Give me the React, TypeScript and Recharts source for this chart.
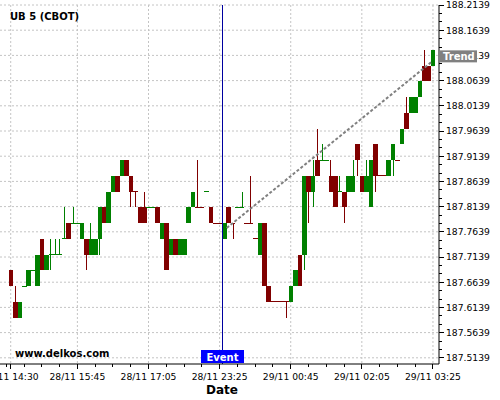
import React from 'react';
import { ComposedChart, Bar, XAxis, YAxis, CartesianGrid, ReferenceLine } from 'recharts';

// UB is quoted in points and 32nds: values below are 32nds above 187
const BASE = 187;
const opens = [
  22, 20, 19, 21, 21, 22, 21, 24, 22, 23, 23, 23, 24, 25, 25, 25, 24, 24, 23, 23,
  24, 26, 25, 27, 28, 28, 29, 28, 27, 26, 26, 26, 26, 26, 24, 25, 23, 24, 23, 23,
  25, 26, 26, 26, 27, 26, 25, 25, 24, 26, 25, 26, 26, 25, 25, 24, 23, 25, 21, 20,
  20, 20, 20, 20, 21, 23, 23, 28, 27, 29, 29, 29, 28, 28, 27, 27, 27, 27, 30, 28,
  27, 26, 30, 28, 28, 28, 29, 29, 30, 32, 32, 32, 33, 35, 35, 35,
];
const highs = [
  22, 21, 20, 21, 22, 22, 23, 24, 23, 24, 24, 24, 26, 25, 26, 25, 25, 24, 25, 24,
  26, 26, 27, 28, 28, 29, 29, 28, 27, 26, 27, 26, 26, 26, 25, 25, 24, 24, 24, 24,
  26, 27, 29, 26, 27, 26, 25, 25, 25, 26, 25, 26, 27, 25, 28, 24, 25, 25, 21, 20,
  20, 20, 20, 21, 22, 23, 28, 28, 29, 31, 30, 29, 29, 28, 28, 27, 28, 29, 30, 28,
  29, 29, 30, 28, 28, 29, 30, 29, 31, 33, 33, 33, 34, 36, 35, 36,
];
const lows = [
  21, 19, 19, 21, 21, 22, 21, 22, 22, 22, 23, 23, 24, 24, 25, 25, 24, 22, 23, 23,
  23, 25, 25, 27, 27, 28, 28, 26, 26, 25, 25, 26, 26, 25, 24, 22, 23, 23, 23, 23,
  25, 26, 26, 26, 27, 25, 25, 25, 24, 25, 24, 26, 26, 25, 25, 24, 23, 21, 20, 20,
  20, 20, 19, 20, 21, 21, 22, 25, 26, 28, 29, 29, 27, 26, 27, 25, 27, 27, 28, 27,
  27, 26, 27, 28, 28, 28, 28, 29, 30, 31, 32, 32, 33, 34, 34, 35,
];
const closes = [
  21, 19, 20, 21, 22, 22, 23, 22, 23, 23, 23, 23, 24, 24, 25, 25, 25, 23, 24, 24,
  26, 25, 27, 28, 27, 29, 28, 27, 27, 25, 25, 26, 26, 25, 25, 22, 24, 23, 24, 24,
  26, 27, 26, 26, 27, 25, 25, 25, 25, 25, 25, 26, 26, 25, 25, 24, 25, 21, 20, 20,
  20, 20, 20, 21, 22, 21, 28, 27, 28, 28, 29, 29, 27, 26, 27, 26, 28, 28, 29, 27,
  28, 29, 28, 28, 28, 29, 30, 29, 31, 31, 33, 33, 34, 34, 34, 36,
];
// flat candles drawn in the down colour
const downDojis = [28, 42, 43, 46, 47, 50, 53, 54, 55, 59, 60, 61, 62, 83, 84, 87];

const xMajorTicks = [0, 15, 31, 47, 63, 79, 95];
const xTickLabels = ['28/11 14:30', '28/11 15:45', '28/11 17:05', '28/11 23:25', '29/11 00:45', '29/11 02:05', '29/11 03:25'];
const xMinorTicks = [-1, 3, 7, 11, 19, 23, 27, 35, 39, 43, 51, 55, 59, 67, 71, 75, 83, 87, 91];
const yMajorTicks = [
  187.5139, 187.5639, 187.6139, 187.6639, 187.7139, 187.7639, 187.8139, 187.8639,
  187.9139, 187.9639, 188.0139, 188.0639, 188.1139, 188.1639, 188.2139,
];

const eventIndex = 47.65;
const trendStart = { x: 48.6, y: 187.7715 };
const trendEnd = { x: 94.7, y: 188.101 };
const trendLabelValue = 188.112;

const X_MIN = -2.41;
const X_MAX = 96.36;
const Y_MIN = 187.5016;
const Y_MAX = 188.2139;

const GREEN = '#008000';
const RED = '#800000';
const CANDLE_W = 4.6;
const FONT = 'DejaVu Sans, Verdana, sans-serif';

const toPrice = (t: number) => BASE + t / 32;

const rows = opens.map((o, i) => {
  const open = toPrice(o);
  const close = toPrice(closes[i]);
  const high = toPrice(highs[i]);
  const low = toPrice(lows[i]);
  const up = close > open || (close === open && !downDojis.includes(i));
  return { i, open, close, high, low, up, range: [low, high] };
});

const yMinorTicks = yMajorTicks.slice(0, -1).flatMap((v) => [v + 0.05 / 3, v + 0.1 / 3]);
const isIn = (list: number[], v: number) => list.some((m) => Math.abs(m - v) < 1e-6);

// grid only on the labelled ticks; the minor ticks stay as short marks
const gridPoints = (axis: any, majors: number[]) => {
  if (!axis) return [];
  if (Array.isArray(axis.ticks)) {
    const pts = axis.ticks
      .filter((t: any) => t && typeof t === 'object' && isIn(majors, t.value))
      .map((t: any) => t.coordinate);
    if (pts.length) return pts;
  }
  if (typeof axis.scale === 'function') return majors.map((m) => axis.scale(m));
  if (axis.scale && typeof axis.scale.map === 'function') return majors.map((m) => axis.scale.map(m));
  return [];
};

const Candle = (props: any) => {
  const { x, width, payload } = props;
  let { y, height } = props;
  if (height < 0) {
    y += height;
    height = -height;
  }
  const cx = x + width / 2;
  const color = payload.up ? GREEN : RED;
  const half = CANDLE_W / 2;
  if (payload.high === payload.low) {
    return <line x1={cx - half} x2={cx + half} y1={y} y2={y} stroke={color} shapeRendering="crispEdges" />;
  }
  const ppu = height / (payload.high - payload.low);
  const yOpen = y + (payload.high - payload.open) * ppu;
  const yClose = y + (payload.high - payload.close) * ppu;
  const top = Math.min(yOpen, yClose);
  const bottom = Math.max(yOpen, yClose);
  return (
    <g>
      <line x1={cx} x2={cx} y1={y} y2={y + height} stroke={color} shapeRendering="crispEdges" />
      {bottom - top < 0.5 ? (
        <line x1={cx - half} x2={cx + half} y1={top} y2={top} stroke={color} shapeRendering="crispEdges" />
      ) : (
        <rect x={cx - half} y={top} width={CANDLE_W} height={bottom - top} fill={color} shapeRendering="crispEdges" />
      )}
    </g>
  );
};

const XTick = (props: any) => {
  const { x, y, payload } = props;
  const idx = xMajorTicks.indexOf(payload.value);
  const major = idx >= 0;
  return (
    <g>
      <line x1={x} x2={x} y1={y} y2={y + (major ? 5 : 3)} stroke="#000" shapeRendering="crispEdges" />
      {major && (
        <text x={x} y={y + 16} textAnchor="middle" fontSize={9.2} fontFamily={FONT} fill="#000">
          {xTickLabels[idx]}
        </text>
      )}
    </g>
  );
};

const YTick = (props: any) => {
  const { x, y, payload } = props;
  const major = isIn(yMajorTicks, payload.value);
  return (
    <g>
      <line x1={x} x2={x + (major ? 5 : 3)} y1={y} y2={y} stroke="#000" shapeRendering="crispEdges" />
      {major && (
        <text x={x + 7} y={y} dy="0.36em" textAnchor="start" fontSize={9.2} fontFamily={FONT} fill="#000">
          {payload.value.toFixed(4)}
        </text>
      )}
    </g>
  );
};

const EventLabel = (props: any) => {
  const vb = props.viewBox || {};
  const bx = vb.x - 21.5;
  const by = vb.y + vb.height - 14;
  return (
    <g>
      <rect x={bx} y={by} width={43} height={13} fill="#0000ff" />
      <text x={vb.x} y={by + 10.5} textAnchor="middle" fontSize={10} fontWeight="bold" fontFamily={FONT} fill="#fff">
        Event
      </text>
    </g>
  );
};

const TrendLabel = (props: any) => {
  const vb = props.viewBox || {};
  const bx = vb.x + vb.width;
  const by = vb.y - 6;
  return (
    <g>
      <rect x={bx} y={by} width={38} height={12} fill="#808080" />
      <text x={bx + 4} y={by + 9.5} fontSize={10} fontWeight="bold" fontFamily={FONT} fill="#fff">
        Trend
      </text>
    </g>
  );
};

export default function App() {
  return (
    <div style={{ position: 'absolute', left: 0, top: 0, width: 500, height: 400, background: '#fff' }}>
      <ComposedChart
        width={500}
        height={400}
        data={rows}
        margin={{ top: 5, right: 0, bottom: 0, left: 0 }}
        style={{ fontFamily: FONT }}
      >
        <CartesianGrid
          stroke="#c4c4c4"
          strokeDasharray="2 2"
          verticalCoordinatesGenerator={(p: any) => gridPoints(p.xAxis, xMajorTicks)}
          horizontalCoordinatesGenerator={(p: any) => gridPoints(p.yAxis, yMajorTicks)}
        />
        <XAxis
          dataKey="i"
          type="number"
          domain={[X_MIN, X_MAX]}
          allowDataOverflow
          ticks={[...xMajorTicks, ...xMinorTicks].sort((a, b) => a - b)}
          interval={0}
          tickSize={0}
          tickMargin={0}
          tickLine={false}
          tick={(p: any) => <XTick {...p} />}
          axisLine={{ stroke: '#000' }}
          height={36}
        />
        <YAxis
          orientation="right"
          type="number"
          domain={[Y_MIN, Y_MAX]}
          allowDataOverflow
          ticks={[...yMajorTicks, ...yMinorTicks].sort((a, b) => a - b)}
          interval={0}
          tickSize={0}
          tickMargin={0}
          tickLine={false}
          tick={(p: any) => <YTick {...p} />}
          axisLine={{ stroke: '#000' }}
          width={61}
        />
        <Bar dataKey="range" shape={(p: any) => <Candle {...p} />} isAnimationActive={false} />
        <ReferenceLine
          segment={[trendStart, trendEnd]}
          stroke="#808080"
          strokeWidth={2}
          strokeDasharray="3 2"
        />
        <ReferenceLine
          x={eventIndex}
          stroke="#0000a0"
          label={(p: any) => <EventLabel {...p} />}
        />
        <ReferenceLine
          y={trendLabelValue}
          stroke="none"
          zIndex={2000}
          label={(p: any) => <TrendLabel {...p} />}
        />
      </ComposedChart>
      <svg
        width={500}
        height={400}
        style={{ position: 'absolute', left: 0, top: 0, pointerEvents: 'none' }}
      >
        <text x={10} y={19.7} fontSize={10} fontWeight="bold" fontFamily={FONT} fill="#000">
          UB 5 (CBOT)
        </text>
        <text x={15} y={357} fontSize={10} fontWeight="bold" fontFamily={FONT} fill="#000">
          www.delkos.com
        </text>
        <text x={222} y={393.5} textAnchor="middle" fontSize={12} fontWeight="bold" fontFamily={FONT} fill="#000">
          Date
        </text>
      </svg>
    </div>
  );
}
